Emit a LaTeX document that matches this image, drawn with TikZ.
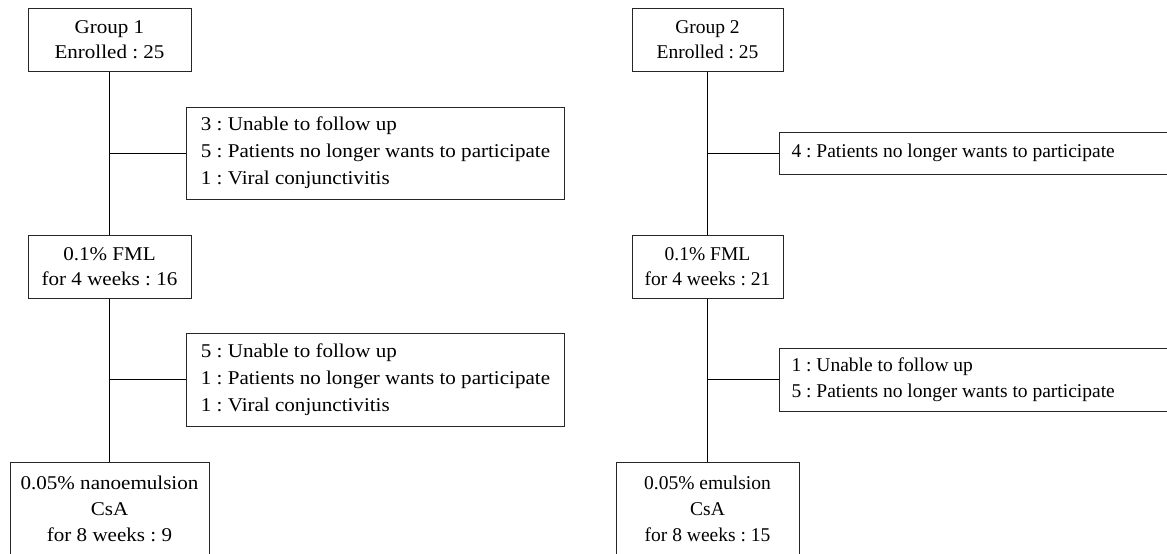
\documentclass[tikz,border=0pt]{standalone}
\usepackage{fontspec}
\setmainfont{Liberation Serif}
\newfontfamily\leftfont[FakeStretch=1.08]{Liberation Serif}
\frenchspacing
\begin{document}
\begin{tikzpicture}[x=1pt,y=-1pt,
	line width=1pt,
	box/.style={draw=black!85, align=center, inner sep=0pt,
		font=\fontsize{19.5}{25.5}\selectfont},
	wide/.style={font=\leftfont\fontsize{19.5}{#1}\selectfont},
	wide/.default=25.5,
	dropbox/.style={box, align=left, anchor=west}]

	\path[use as bounding box,clip] (0,0) rectangle (1167,554);

	% group 1
	\node[box, wide, minimum width=163pt, minimum height=63pt] (g1) at (109.5,39.5) {Group 1\\Enrolled : 25};
	\node[box, wide, minimum width=163pt, minimum height=63pt] (f1) at (109.5,266.5) {0.1\% FML\\for 4 weeks : 16};
	\node[box, wide=26, minimum width=199pt, minimum height=94pt] (b1) at (109.5,509) {0.05\% nanoemulsion\\CsA\\for 8 weeks : 9};

	\node[dropbox, wide=27, minimum width=378pt, minimum height=92pt] (s1) at (186,153) {3 : Unable to follow up\\5 : Patients no longer wants to participate\\1 : Viral conjunctivitis};
	\node[dropbox, wide=27, minimum width=378pt, minimum height=93pt] (s2) at (186,379.5) {5 : Unable to follow up\\1 : Patients no longer wants to participate\\1 : Viral conjunctivitis};

	\draw (g1) -- (f1);
	\draw (f1) -- (b1);
	\draw (s1.west) -- (s1.west -| g1.south);
	\draw (s2.west) -- (s2.west -| f1.south);

	% group 2
	\node[box, minimum width=151pt, minimum height=63pt] (g2) at (707.5,39.5) {Group 2\\Enrolled : 25};
	\node[box, minimum width=151pt, minimum height=63pt] (f2) at (707.5,266.5) {0.1\% FML\\for 4 weeks : 21};
	\node[box, font=\fontsize{19.5}{26}\selectfont, minimum width=183pt, minimum height=94pt] (b2) at (707.5,509) {0.05\% emulsion\\CsA\\for 8 weeks : 15};

	\node[dropbox, align=flush left, text width=377pt, inner xsep=12pt, minimum height=42pt] (s3) at (779,153) {4 : Patients no longer wants to participate};
	\node[dropbox, align=flush left, font=\fontsize{19.5}{26}\selectfont, text width=377pt, inner xsep=12pt, minimum height=63pt] (s4) at (779,379.5) {1 : Unable to follow up\\5 : Patients no longer wants to participate};

	\draw (g2) -- (f2);
	\draw (f2) -- (b2);
	\draw (s3.west) -- (s3.west -| g2.south);
	\draw (s4.west) -- (s4.west -| f2.south);
\end{tikzpicture}
\end{document}
